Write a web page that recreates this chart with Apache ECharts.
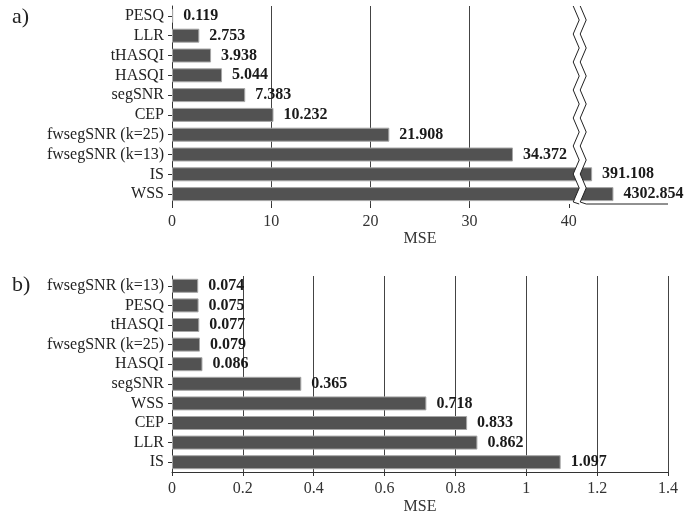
<!DOCTYPE html>
<html>
<head>
<meta charset="utf-8">
<script src="https://cdn.jsdelivr.net/npm/echarts@6.0.0/dist/echarts.min.js"></script>
<style>
html,body{margin:0;padding:0;background:#fff;}
#chart{width:688px;height:516px;}
</style>
</head>
<body>
<div id="chart"></div>
<script>
// ---- Panel a) data ----
var topCategories = ['PESQ', 'LLR', 'tHASQI', 'HASQI', 'segSNR', 'CEP', 'fwsegSNR (k=25)', 'fwsegSNR (k=13)', 'IS', 'WSS'];
var topValues = [0.119, 2.753, 3.938, 5.044, 7.383, 10.232, 21.908, 34.372, 391.108, 4302.854];
// bar lengths on the broken axis (values beyond the break are drawn compressed past it)
var topBarLengths = [0.119, 2.753, 3.938, 5.044, 7.383, 10.232, 21.908, 34.372, 42.35, 44.5];
var topTicks = [0, 10, 20, 30, 40];
var topBreakAt = 41.1;

// ---- Panel b) data ----
var botCategories = ['fwsegSNR (k=13)', 'PESQ', 'tHASQI', 'fwsegSNR (k=25)', 'HASQI', 'segSNR', 'WSS', 'CEP', 'LLR', 'IS'];
var botValues = [0.074, 0.075, 0.077, 0.079, 0.086, 0.365, 0.718, 0.833, 0.862, 1.097];
var botTicks = [0, 0.2, 0.4, 0.6, 0.8, 1, 1.2, 1.4];

var FONT = 'Liberation Serif';
var chart = echarts.init(document.getElementById('chart'), null, {renderer: 'canvas'});

function catAxis(idx, cats) {
  return {
    type: 'category', gridIndex: idx, data: cats, inverse: true,
    axisLine: {show: true, lineStyle: {color: '#333', width: 1}},
    axisTick: {show: true, length: 4, alignWithLabel: true, interval: 0, lineStyle: {color: '#333'}},
    axisLabel: {fontFamily: FONT, fontSize: 16, color: '#222', margin: 8, interval: 0},
    splitLine: {show: false}
  };
}

var barItemStyle = {color: '#525252', borderColor: '#a6a6a6', borderWidth: 1};
var valLabel = function (vals) {
  return {
    show: true, position: 'right', distance: 10,
    fontFamily: FONT, fontSize: 16, fontWeight: 'bold', color: '#1a1a1a',
    formatter: function (p) { return vals[p.dataIndex].toFixed(3); }
  };
};

var option = {
  animation: false,
  backgroundColor: '#fff',
  graphic: [
    {type: 'text', left: 12, top: 6, style: {text: 'a)', font: '22px "Liberation Serif"', fill: '#222'}},
    {type: 'text', left: 12, top: 274, style: {text: 'b)', font: '22px "Liberation Serif"', fill: '#222'}}
  ],
  grid: [
    {left: 172, top: 6, width: 496, height: 198, containLabel: false},
    {left: 172, top: 276, width: 496, height: 197, containLabel: false}
  ],
  xAxis: [
    {
      type: 'value', gridIndex: 0, min: 0, max: 50, interval: 10,
      name: 'MSE', nameLocation: 'middle', nameGap: 27,
      nameTextStyle: {fontFamily: FONT, fontSize: 16, color: '#333'},
      axisLine: {show: false},
      axisTick: {show: true, length: 4, customValues: topTicks, lineStyle: {color: '#333'}},
      axisLabel: {fontFamily: FONT, fontSize: 16, color: '#333', margin: 10, customValues: topTicks,
        formatter: function (v) { return v > 40 ? '' : String(v); }},
      splitLine: {show: true, showMinLine: false, showMaxLine: false, lineStyle: {color: '#444', width: 1}}
    },
    {
      type: 'value', gridIndex: 1, min: 0, max: 1.4, interval: 0.2,
      name: 'MSE', nameLocation: 'middle', nameGap: 27,
      nameTextStyle: {fontFamily: FONT, fontSize: 16, color: '#333'},
      axisLine: {show: true, lineStyle: {color: '#333', width: 1}},
      axisTick: {show: true, length: 4, lineStyle: {color: '#333'}},
      axisLabel: {fontFamily: FONT, fontSize: 16, color: '#333', margin: 9,
        formatter: function (v) { return String(Math.round(v * 10) / 10); }},
      splitLine: {show: true, showMinLine: false, showMaxLine: true, lineStyle: {color: '#444', width: 1}}
    }
  ],
  yAxis: [catAxis(0, topCategories), catAxis(1, botCategories)],
  series: [
    {
      type: 'bar', xAxisIndex: 0, yAxisIndex: 0, data: topBarLengths, barWidth: 14,
      itemStyle: barItemStyle, label: valLabel(topValues), clip: false
    },
    {
      type: 'bar', xAxisIndex: 1, yAxisIndex: 1, data: botValues, barWidth: 14,
      itemStyle: barItemStyle, label: valLabel(botValues)
    },
    {
      type: 'custom', xAxisIndex: 0, yAxisIndex: 0, z: 10, clip: false, silent: true,
      data: [[0, 0]],
      renderItem: function (params, api) {
        var cs = params.coordSys;
        var xc = api.coord([topBreakAt, 0])[0];
        var top = cs.y, bottom = cs.y + cs.height;
        var step = 14, amp = 3, sep = 7;
        var left = [], right = [];
        var n = Math.ceil((bottom - top) / step);
        for (var i = 0; i <= n; i++) {
          var y = Math.min(top + i * step, bottom);
          var xl = xc - sep / 2 + (i % 2 === 0 ? -amp : amp);
          left.push([xl, y]);
          right.push([xl + sep, y]);
        }
        var poly = left.concat(right.slice().reverse());
        return {
          type: 'group',
          children: [
            {type: 'polygon', shape: {points: poly}, style: {fill: '#fff', stroke: null}},
            {type: 'polyline', shape: {points: left}, style: {stroke: '#222', lineWidth: 1, fill: null}},
            {type: 'polyline', shape: {points: right}, style: {stroke: '#222', lineWidth: 1, fill: null}},
            {type: 'line', shape: {x1: right[right.length - 1][0], y1: bottom, x2: cs.x + cs.width, y2: bottom},
              style: {stroke: '#222', lineWidth: 1}}
          ]
        };
      }
    }
  ]
};
chart.setOption(option);
</script>
</body>
</html>
